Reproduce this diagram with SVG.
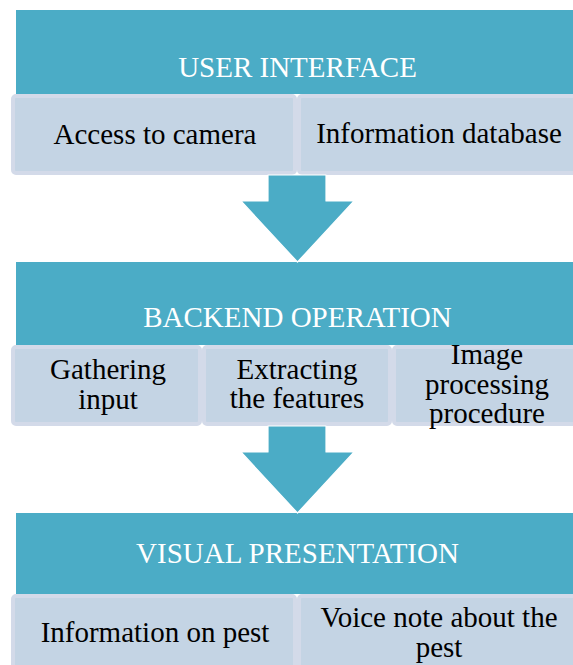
<svg xmlns="http://www.w3.org/2000/svg" width="573" height="665" viewBox="0 0 573 665">
<style>
.band{fill:#4bacc6}
.sub{fill:#c4d4e4;stroke:#d3dae9;stroke-width:4}
text{font-family:'Liberation Serif','Tinos','Times New Roman','DejaVu Serif',serif;font-size:29px;text-anchor:middle}
.title{fill:#ffffff}
.txt{fill:#000000}
.arrow{fill:#4bacc6;stroke:#ffffff;stroke-width:1.2;stroke-linejoin:round}
</style>
<rect width="573" height="665" fill="#ffffff"/>
<g id="user-interface">
  <rect class="band" x="16" y="10" width="564" height="84"/>
  <text class="title" x="297.5" y="77">USER INTERFACE</text>
  <rect class="sub" x="13" y="96" width="282" height="77" rx="3"/>
  <rect class="sub" x="299" y="96" width="283" height="77" rx="3"/>
  <text class="txt" x="155" y="144">Access to camera</text>
  <text class="txt" x="439" y="143">Information database</text>
</g>
<g id="backend-operation">
  <rect class="band" x="16" y="262" width="564" height="83"/>
  <text class="title" x="297.5" y="327">BACKEND OPERATION</text>
  <rect class="sub" x="13" y="347" width="187" height="77" rx="3"/>
  <rect class="sub" x="204" y="347" width="186" height="77" rx="3"/>
  <rect class="sub" x="394" y="347" width="188" height="77" rx="3"/>
  <text class="txt" x="108" y="379">Gathering</text>
  <text class="txt" x="108" y="409">input</text>
  <text class="txt" x="297" y="379">Extracting</text>
  <text class="txt" x="297" y="408">the features</text>
  <text class="txt" x="487" y="364">Image</text>
  <text class="txt" x="487" y="393.5">processing</text>
  <text class="txt" x="487" y="423">procedure</text>
</g>
<g id="visual-presentation">
  <rect class="band" x="16" y="513" width="564" height="81"/>
  <text class="title" x="297.5" y="563">VISUAL PRESENTATION</text>
  <rect class="sub" x="13" y="596" width="282" height="80" rx="3"/>
  <rect class="sub" x="299" y="596" width="283" height="80" rx="3"/>
  <text class="txt" x="155" y="642">Information on pest</text>
  <text class="txt" x="439" y="627">Voice note about the</text>
  <text class="txt" x="439" y="657">pest</text>
</g>
<g id="connectors">
  <path class="arrow" d="M268 175 L326 175 L326 201 L354 201 L297.5 262 L241 201 L268 201 Z"/>
  <path class="arrow" d="M268 426 L326 426 L326 452 L354 452 L297.5 513 L241 452 L268 452 Z"/>
</g>
</svg>
